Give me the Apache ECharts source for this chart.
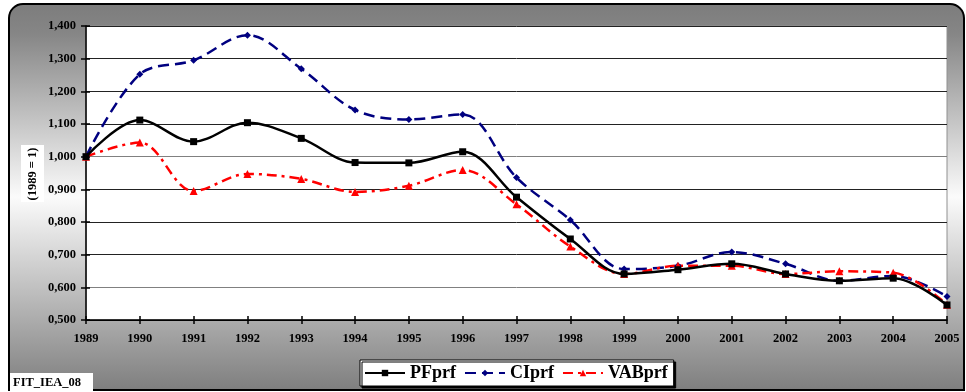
<!DOCTYPE html>
<html><head><meta charset="utf-8">
<script src="https://cdn.jsdelivr.net/npm/echarts@6/dist/echarts.min.js"></script>
<style>html,body{margin:0;padding:0;background:#fff}#c{width:966px;height:392px}</style>
</head><body><div id="c"></div>
<script>
const years = ['1989','1990','1991','1992','1993','1994','1995','1996','1997','1998','1999','2000','2001','2002','2003','2004','2005'];
const PFprf  = [1.000,1.112,1.046,1.104,1.056,0.982,0.981,1.015,0.876,0.748,0.641,0.654,0.672,0.641,0.620,0.628,0.546];
const CIprf  = [1.000,1.252,1.295,1.372,1.269,1.143,1.114,1.129,0.936,0.806,0.656,0.666,0.708,0.672,0.620,0.635,0.572];
const VABprf = [1.000,1.043,0.895,0.947,0.932,0.892,0.911,0.959,0.854,0.725,0.641,0.666,0.666,0.641,0.649,0.645,0.547];
const yMin = 0.5, yMax = 1.4, yStep = 0.1;

const font = 'Liberation Serif';
const chart = echarts.init(document.getElementById('c'));
const fmt = v => v.toFixed(3).replace('.', ',');
chart.setOption({
  animation: false,
  graphic: [
    { type: 'rect', z: -10, shape: { x: 9, y: 4, width: 955, height: 386, r: [14, 14, 0, 0] },
      style: { fill: new echarts.graphic.LinearGradient(0, 0, 0, 1, [
        { offset: 0, color: '#7c7c7c' }, { offset: 0.08, color: '#868686' },
        { offset: 0.5, color: '#fbfbfb' }, { offset: 1, color: '#7e7e7e' }]),
        stroke: '#000', lineWidth: 2 } },
    { type: 'rect', z: 5, shape: { x: 21, y: 145, width: 23, height: 57 }, style: { fill: '#fff' } },
    { type: 'text', z: 6, x: 33, y: 174, rotation: Math.PI / 2,
      style: { text: '(1989 = 1)', font: 'bold 12.5px "Liberation Serif"', fill: '#000', align: 'center', verticalAlign: 'middle' } },
    { type: 'rect', z: 5, shape: { x: 10, y: 373, width: 83, height: 19 }, style: { fill: '#fff' } },
    { type: 'text', z: 6, x: 13, y: 383,
      style: { text: 'FIT_IEA_08', font: 'bold 12.5px "Liberation Serif"', fill: '#000', verticalAlign: 'middle' } }
  ],
  grid: { left: 86, right: 19, top: 26, bottom: 72, show: true, backgroundColor: '#fff', borderColor: '#909090', borderWidth: 1 },
  legend: {
    bottom: 6, left: 360, itemWidth: 40, itemHeight: 8, itemGap: 8,
    backgroundColor: '#fff', borderColor: '#000', borderWidth: 1, padding: [4, 6, 4, 4],
    shadowColor: '#000', shadowOffsetX: 2, shadowOffsetY: 2, shadowBlur: 0,
    textStyle: { fontFamily: font, fontWeight: 'bold', fontSize: 18, color: '#000' },
    data: ['PFprf', 'CIprf', 'VABprf']
  },
  xAxis: [{
    type: 'category', data: years, boundaryGap: false,
    axisLine: { lineStyle: { color: '#000', width: 1.5 } },
    axisTick: { show: true, alignWithLabel: true, length: 4, lineStyle: { color: '#000', width: 1.5 } },
    axisLabel: { fontFamily: font, fontWeight: 'bold', fontSize: 12.5, color: '#000', margin: 12, interval: 0 },
    splitLine: { show: false }
  }, {
    type: 'category', data: years, boundaryGap: false, position: 'bottom',
    axisLine: { show: false }, axisLabel: { show: false },
    axisTick: { show: true, inside: true, length: 4, lineStyle: { color: '#000', width: 1.5 } }
  }],
  yAxis: [{
    type: 'value', min: yMin, max: yMax, interval: yStep,
    axisLine: { show: true, lineStyle: { color: '#000', width: 1.5 } },
    axisTick: { show: true, length: 5, lineStyle: { color: '#000', width: 1.5 } },
    axisLabel: { formatter: fmt, fontFamily: font, fontWeight: 'bold', fontSize: 12.5, color: '#000', margin: 10 },
    splitLine: { show: true, lineStyle: { color: ['#000', '#808080', '#222', '#222', '#222', '#808080', '#222', '#222', '#222', '#222'], width: 1 } }
  }, {
    type: 'value', min: yMin, max: yMax, interval: yStep, position: 'left',
    axisLine: { show: false }, axisLabel: { show: false }, splitLine: { show: false },
    axisTick: { show: true, inside: true, length: 4, lineStyle: { color: '#000', width: 1.5 } }
  }],
  series: [
    { name: 'PFprf', type: 'line', data: PFprf, smooth: 0.35, z: 4,
      symbol: 'rect', symbolSize: 7,
      itemStyle: { color: '#000' }, lineStyle: { color: '#000', width: 2.5, type: 'solid' } },
    { name: 'CIprf', type: 'line', data: CIprf, smooth: 0.35, z: 3,
      symbol: 'diamond', symbolSize: 7,
      itemStyle: { color: '#000080' }, lineStyle: { color: '#000080', width: 2.5, type: [11, 6] } },
    { name: 'VABprf', type: 'line', data: VABprf, smooth: 0.35, z: 3,
      symbol: 'triangle', symbolSize: 8,
      itemStyle: { color: '#ff0000' }, lineStyle: { color: '#ff0000', width: 2.5, type: [10, 5, 3, 5] } }
  ]
});
</script></body></html>
